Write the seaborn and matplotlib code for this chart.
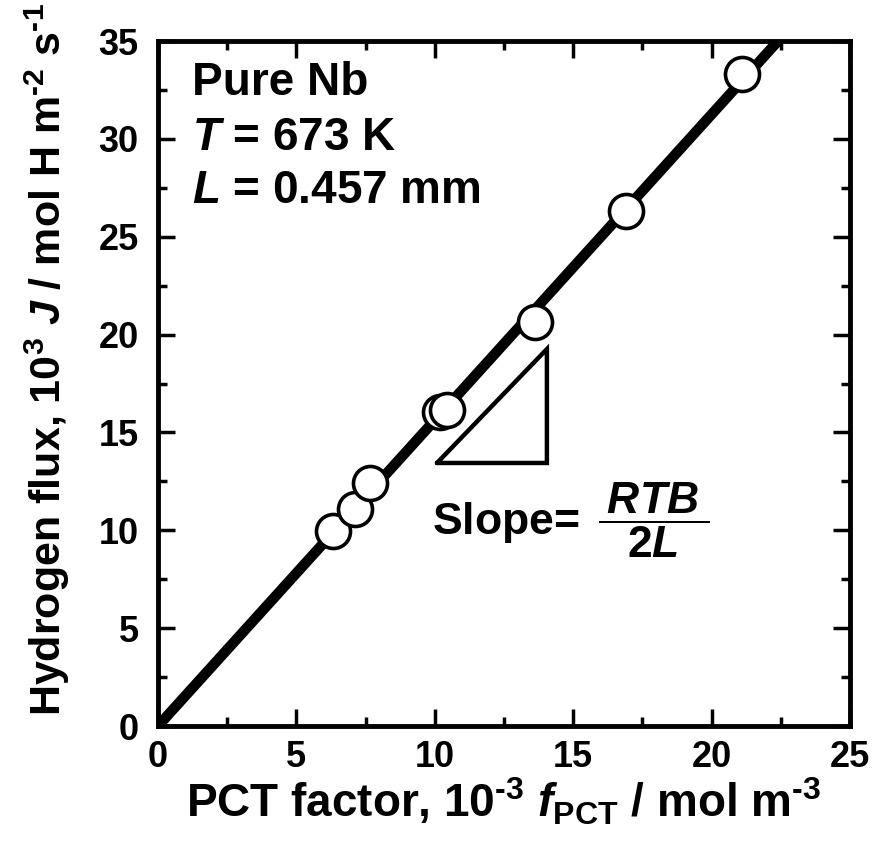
import numpy as np
import pandas as pd
import seaborn as sns
import matplotlib.pyplot as plt

pct_factor = [6.32, 7.12, 7.66, 10.20, 10.45, 13.62, 16.91, 21.10]
h_flux = [9.95, 11.10, 12.40, 16.05, 16.15, 20.62, 26.30, 33.30]

# fitted line through origin
fit_x = [0.0, 22.4]
fit_y = [0.0, 35.0]

# slope triangle corners
tri_x = [10.08, 14.05, 14.05, 10.08]
tri_y = [13.44, 13.44, 19.26, 13.44]

sns.set_theme(style="ticks")
plt.rcParams["font.family"] = ["Liberation Sans", "DejaVu Sans"]
plt.rcParams["font.weight"] = "bold"
plt.rcParams["text.color"] = "black"
plt.rcParams["axes.labelcolor"] = "black"
plt.rcParams["xtick.color"] = "black"
plt.rcParams["ytick.color"] = "black"
plt.rcParams["mathtext.fontset"] = "custom"
plt.rcParams["mathtext.rm"] = "Liberation Sans:bold"
plt.rcParams["mathtext.bf"] = "Liberation Sans:bold"
plt.rcParams["mathtext.it"] = "Liberation Sans:bold:italic"

fig = plt.figure(figsize=(8.74, 8.44), dpi=100)
ax = fig.add_axes([0.1808, 0.1398, 0.7917, 0.8116])

df_fit = pd.DataFrame({"x": fit_x, "y": fit_y})
df_pts = pd.DataFrame({"x": pct_factor, "y": h_flux})

sns.lineplot(data=df_fit, x="x", y="y", ax=ax, color="black", lw=7.5,
             solid_capstyle="butt", zorder=2)
sns.scatterplot(data=df_pts, x="x", y="y", ax=ax, s=600, facecolor="white",
                edgecolor="black", linewidth=2.6, zorder=3)
ax.plot(tri_x, tri_y, color="black", lw=3.2, solid_joinstyle="miter", zorder=2)

ax.set_xlim(0, 25)
ax.set_ylim(0, 35)
ax.set_xticks([0, 5, 10, 15, 20, 25])
ax.set_yticks([0, 5, 10, 15, 20, 25, 30, 35])
ax.set_xticks(np.arange(2.5, 25, 5), minor=True)
ax.set_yticks(np.arange(2.5, 35, 5), minor=True)
ax.tick_params(which="both", direction="in", top=True, right=True, width=2.5,
               labelsize=26, color="black", labelcolor="black")
ax.tick_params(which="major", length=12)
ax.tick_params(which="minor", length=6.5)
ax.tick_params(axis="x", pad=10)
ax.tick_params(axis="y", pad=14)
for lab in ax.get_xticklabels() + ax.get_yticklabels():
    lab.set_fontweight("bold")
for sp in ax.spines.values():
    sp.set_linewidth(3.5)
    sp.set_color("black")

ax.set_xlabel(r"PCT factor, 10$^{\text{-}3}$ $f_{\mathrm{PCT}}$ / mol m$^{\text{-}3}$",
              fontsize=33, fontweight="bold", labelpad=1)
ax.set_ylabel(r"Hydrogen flux, 10$^{3}$ $J$ / mol H m$^{\text{-}2}$ s$^{\text{-}1}$",
              fontsize=31, fontweight="bold")
ax.yaxis.set_label_coords(-0.125, 0.535)

ax.text(0.049, 0.921, "Pure Nb", transform=ax.transAxes, fontsize=33,
        fontweight="bold", va="baseline")
ax.text(0.049, 0.841, r"$T$ = 673 K", transform=ax.transAxes, fontsize=33,
        fontweight="bold", va="baseline")
ax.text(0.049, 0.7635, r"$L$ = 0.457 mm", transform=ax.transAxes, fontsize=33,
        fontweight="bold", va="baseline")
ax.text(9.9, 9.8, r"Slope= $\,\dfrac{\:RTB\:}{2L}$", fontsize=32,
        fontweight="bold", va="baseline")

fig.savefig("out.png", dpi=100)
